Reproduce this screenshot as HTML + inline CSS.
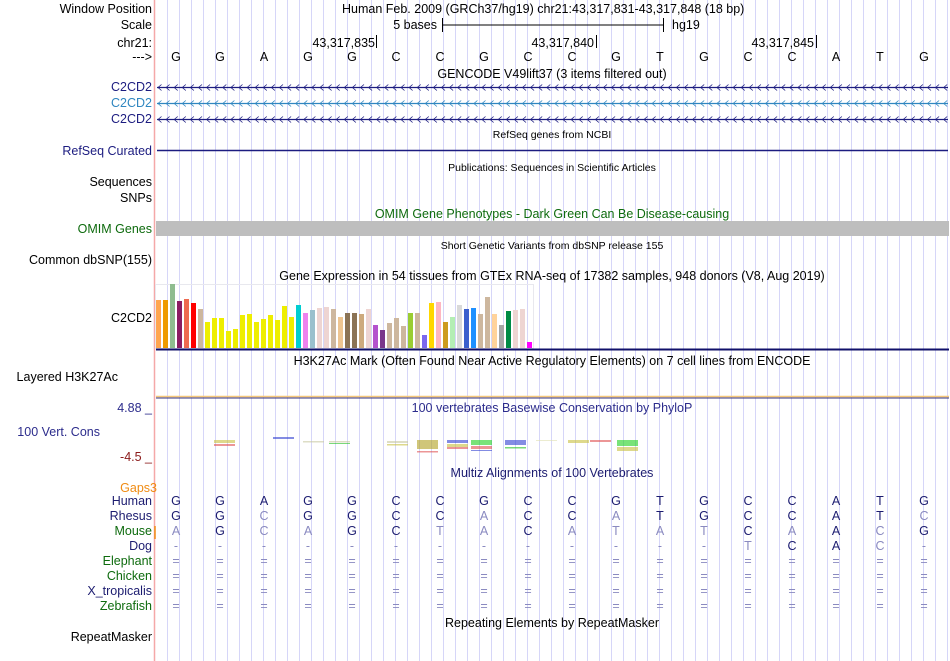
<!DOCTYPE html>
<html><head><meta charset="utf-8"><style>
html,body{margin:0;padding:0;background:#fff;}
svg{display:block;font-family:"Liberation Sans",sans-serif;}
</style></head><body>
<svg id="s" width="950" height="661" xmlns="http://www.w3.org/2000/svg">
<g id="grid"></g>
<line x1="154.5" y1="0" x2="154.5" y2="661" stroke="#f5a8a8" stroke-width="1.5"/>
<g font-size="12.5" fill="#000">
<text x="152" y="13" text-anchor="end">Window Position</text>
<text x="152" y="29" text-anchor="end">Scale</text>
<text x="152" y="47" text-anchor="end">chr21:</text>
<text x="152" y="61" text-anchor="end">---&gt;</text>
<text x="342" y="13">Human Feb. 2009 (GRCh37/hg19)   chr21:43,317,831-43,317,848 (18 bp)</text>
<text x="437" y="29" text-anchor="end">5 bases</text>
<text x="672" y="29">hg19</text>
<text x="375" y="47" text-anchor="end">43,317,835</text>
<text x="594" y="47" text-anchor="end">43,317,840</text>
<text x="814" y="47" text-anchor="end">43,317,845</text>
<text x="552" y="78" text-anchor="middle">GENCODE V49lift37 (3 items filtered out)</text>
<text x="152" y="91" text-anchor="end" fill="#1c1c80">C2CD2</text>
<text x="152" y="107" text-anchor="end" fill="#2f86c0">C2CD2</text>
<text x="152" y="123" text-anchor="end" fill="#1c1c80">C2CD2</text>
<text x="552" y="138" text-anchor="middle" font-size="10.5">RefSeq genes from NCBI</text>
<text x="152" y="155" text-anchor="end" fill="#1c1c80">RefSeq Curated</text>
<text x="552" y="171" text-anchor="middle" font-size="10.5">Publications: Sequences in Scientific Articles</text>
<text x="152" y="186" text-anchor="end">Sequences</text>
<text x="152" y="202" text-anchor="end">SNPs</text>
<text x="552" y="218" text-anchor="middle" fill="#0e6b0e">OMIM Gene Phenotypes - Dark Green Can Be Disease-causing</text>
<text x="152" y="233" text-anchor="end" fill="#0e6b0e">OMIM Genes</text>
<text x="552" y="249" text-anchor="middle" font-size="10.5">Short Genetic Variants from dbSNP release 155</text>
<text x="152" y="264" text-anchor="end">Common dbSNP(155)</text>
<text x="552" y="280" text-anchor="middle">Gene Expression in 54 tissues from GTEx RNA-seq of 17382 samples, 948 donors (V8, Aug 2019)</text>
<text x="152" y="322" text-anchor="end">C2CD2</text>
<text x="552" y="365" text-anchor="middle">H3K27Ac Mark (Often Found Near Active Regulatory Elements) on 7 cell lines from ENCODE</text>
<text x="118" y="381" text-anchor="end">Layered H3K27Ac</text>
<text x="552" y="412" text-anchor="middle" fill="#2c2c8c">100 vertebrates Basewise Conservation by PhyloP</text>
<text x="152" y="412" text-anchor="end" fill="#2c2c8c">4.88 _</text>
<text x="100" y="436" text-anchor="end" fill="#2c2c8c">100 Vert. Cons</text>
<text x="152" y="461" text-anchor="end" fill="#8b1a1a">-4.5 _</text>
<text x="552" y="477" text-anchor="middle" fill="#1c1c70">Multiz Alignments of 100 Vertebrates</text>
<text x="157" y="492" text-anchor="end" fill="#f08c14">Gaps3</text>
<text x="552" y="627" text-anchor="middle">Repeating Elements by RepeatMasker</text>
<text x="152" y="641" text-anchor="end">RepeatMasker</text>
</g>
<g stroke="#000" stroke-width="1">
<line x1="442" y1="25" x2="663" y2="25"/>
<line x1="442.5" y1="18" x2="442.5" y2="32"/>
<line x1="663.5" y1="18" x2="663.5" y2="32"/>
<line x1="376.5" y1="35" x2="376.5" y2="48"/>
<line x1="596.5" y1="35" x2="596.5" y2="48"/>
<line x1="816.5" y1="35" x2="816.5" y2="48"/>
</g>
<g id="bases" font-size="12.5" text-anchor="middle"></g>
<g id="genes"></g>
<line x1="157" y1="150.5" x2="948" y2="150.5" stroke="#1c1c80" stroke-width="1.5"/>
<rect x="156" y="221" width="793" height="15" fill="#bebebe"/>
<rect x="155.5" y="284.5" width="378" height="64" fill="none" stroke="#e8e8ee"/>
<g id="gtex"></g>
<line x1="156" y1="349.5" x2="949" y2="349.5" stroke="#10106a" stroke-width="2"/>
<line x1="156" y1="396.5" x2="949" y2="396.5" stroke="#f5c77a" stroke-width="1.5"/>
<line x1="156" y1="398" x2="949" y2="398" stroke="#303080" stroke-width="1"/>
<g id="logo"></g>
<line x1="155" y1="526" x2="155" y2="539" stroke="#f08c14" stroke-width="1.5"/>
<g id="align" font-size="12.5" text-anchor="middle"></g>
</svg>
<script>
const NS="http://www.w3.org/2000/svg";
const svg=document.getElementById('s');
function mk(tag,parent,attrs){const e=document.createElementNS(NS,tag);for(const k in attrs)e.setAttribute(k,attrs[k]);parent.appendChild(e);return e;}

// grid
const grid=document.getElementById('grid');
for(let x=167.5;x<949;x+=12){
  const l=mk('line',grid,{x1:x,y1:0,x2:x,y2:661,stroke:'#d6d6f8','stroke-width':1});
  
  
}

// bases
const baseSeq=['G','G','A','G','G','C','C','G','C','C','G','T','G','C','C','A','T','G'];
const bx=i=>176+44*i;
const bg=document.getElementById('bases');
baseSeq.forEach((b,i)=>{
  const t=mk('text',bg,{x:bx(i),y:61});
  t.textContent=b;
  
  
});

// gene transcripts
const genes=document.getElementById('genes');
const geneRows=[{y:87,c:'#1c1c80'},{y:103,c:'#2f86c0'},{y:119,c:'#1c1c80'}];
geneRows.forEach((r,ri)=>{
  const g=mk('g',genes,{});
  
  
  mk('line',g,{x1:157,y1:r.y+0.5,x2:948,y2:r.y+0.5,stroke:r.c,'stroke-width':1.2});
  let d='';
  for(let x=158;x<948;x+=8.1){d+=`M${x+3.5} ${r.y-2.5}L${x} ${r.y+0.5}L${x+3.5} ${r.y+3.5}`;}
  mk('path',g,{d:d,stroke:r.c,fill:'none','stroke-width':0.8});
});

// GTEx data
const gtexValues=[48,48,64,47,49,45,39,26,30,30,17,19,33,34,26,29,33,28,42,31,43,35,38,40,41,39,31,35,35,34,39,23,18,25,30,22,35,35,13,45,46,26,31,43,39,40,34,51,34,23,37,38,39,6];
const gtexColors=['#FFA54F','#EE9A00','#8FBC8F','#8B1C62','#EE6A50','#FF0000','#CDB79E','#EEEE00','#EEEE00','#EEEE00','#EEEE00','#EEEE00','#EEEE00','#EEEE00','#EEEE00','#EEEE00','#EEEE00','#EEEE00','#EEEE00','#EEEE00','#00CED1','#EE82EE','#9AC0CD','#EED5D2','#EED5D2','#CDB79E','#EEC591','#8B7355','#8B7355','#CDAA7D','#EED5D2','#B452CD','#7A378B','#CDB79E','#CDB79E','#CDB79E','#9ACD32','#CDB79E','#7B68EE','#FFD700','#FFB6C1','#CD9B1D','#B4EEB4','#D9D9D9','#3A5FCD','#1E90FF','#CDB79E','#CDB79E','#FFD39B','#A6A6A6','#008B45','#EED5D2','#EED5D2','#FF00FF'];
const gx=i=>156+7*i, gBase=348, gy=v=>gBase-v;
const gtex=document.getElementById('gtex');
gtexValues.forEach((v,i)=>{
  const r=mk('rect',gtex,{x:gx(i),y:gy(v),width:5,height:gBase-gy(v),fill:gtexColors[i]});
  
  
});

// PhyloP logo (approximate marks)
const logoX=[224,283,313,339,397,427,457,481,515,546,578,600,627];
const logoMarks=[
 [['#c8c040',440,3],['#e05050',444,2]],
 [['#3040d0',437,2]],
 [['#c8c8a0',441,1.5]],
 [['#c8c8a0',441,1.5],['#20c020',443,1]],
 [['#c8c8a0',441,2],['#c8c040',444,1.5]],
 [['#b0a020',440,9],['#e05050',451,1.5]],
 [['#3040d0',440,3],['#c8c040',444,3],['#e05050',447,2]],
 [['#20d020',440,5],['#e05050',446,3],['#3040d0',450,1]],
 [['#3040d0',440,5],['#20c020',447,1.5]],
 [['#e0e0b0',440,1]],
 [['#c8c040',440,3]],
 [['#e05050',440,2]],
 [['#20d020',440,6],['#c8c040',447,4]]
];
const logo=document.getElementById('logo');
logoX.forEach((x,i)=>{
  logoMarks[i].forEach((m,j)=>{
    const r=mk('rect',logo,{x:x-10,y:m[1],width:21,height:m[2],fill:m[0],opacity:0.6});
    
    
  });
});

// Alignment
const species=['Human','Rhesus','Mouse','Dog','Elephant','Chicken','X_tropicalis','Zebrafish'];
const speciesColors=['#1c1c70','#1c1c70','#0e6b0e','#1c1c70','#0e6b0e','#0e6b0e','#1c1c70','#0e6b0e'];
const alnRows=[
 'GGAGGCCGCCGTGCCATG',
 'GGCGGCCACCATGCCATC',
 'AGCAGCTACATATCAACG',
 '-------------TCAC-',
 '==================',
 '==================',
 '==================',
 '=================='
];
const ay=r=>505+15*r;
const align=document.getElementById('align');
species.forEach((sp,r)=>{
  const lab=mk('text',align,{x:152,y:ay(r),'text-anchor':'end',fill:speciesColors[r]});
  lab.textContent=sp;
  
  
  alnRows[r].split('').forEach((c,i)=>{
    const match=(c===baseSeq[i]) || (r===3 && (i===14||i===15));
    const dark=(r===0)||(match&&c!=='-'&&c!=='=');
    const t=mk('text',align,{x:bx(i),y:ay(r),fill:dark?'#1c1c70':'#8a8ac0'});
    t.textContent=c;
    
    
  });
});
</script>
</body></html>
